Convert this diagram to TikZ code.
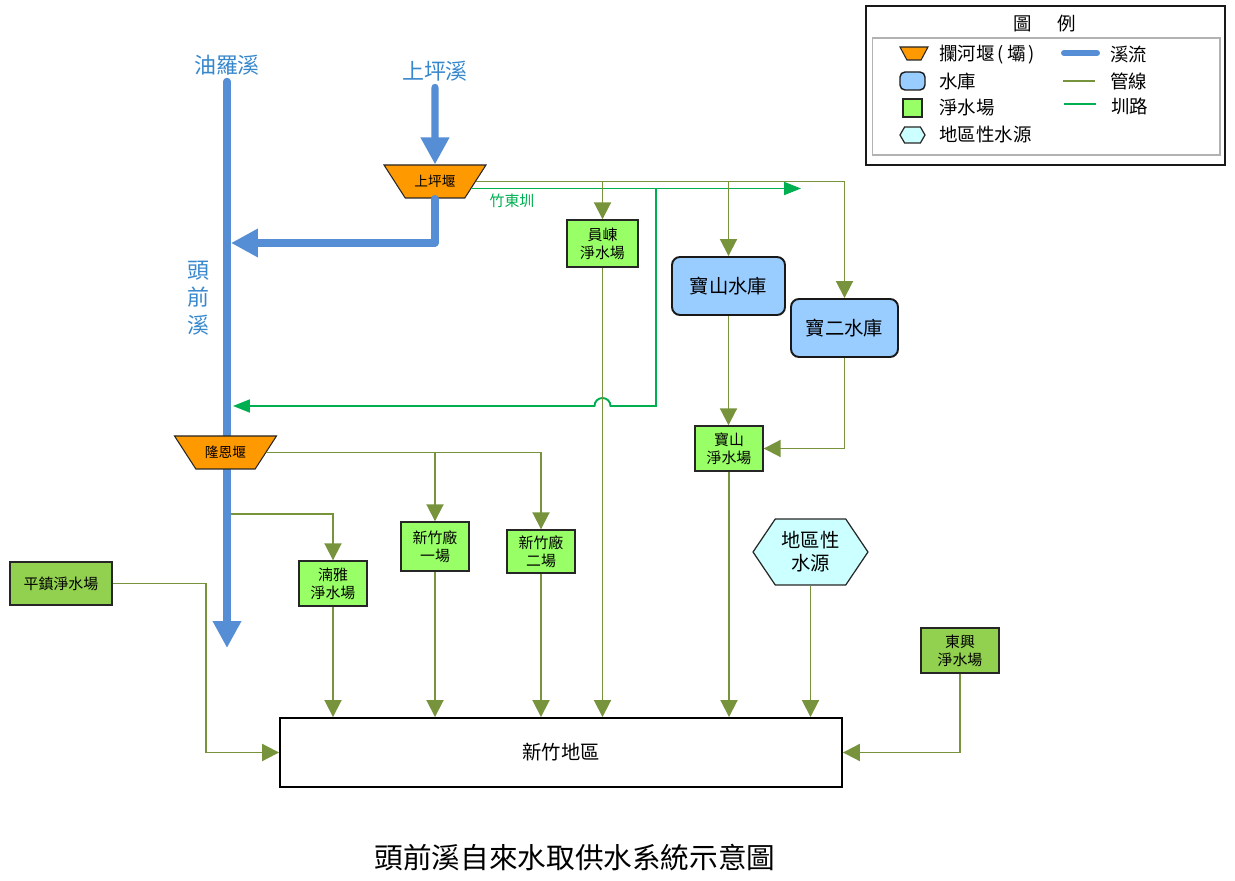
\documentclass[tikz,border=0pt]{standalone}
\usepackage{fontspec}
\setmainfont{Noto Sans CJK TC}
\usepackage{xcolor}
\usetikzlibrary{shapes, shapes.geometric, shapes.symbols, arrows.meta, positioning, calc}
\definecolor{riverblue}{RGB}{85, 142, 213}
\definecolor{labelblue}{RGB}{55, 135, 205}
\definecolor{weirorange}{RGB}{255, 153, 0}
\definecolor{resblue}{RGB}{153, 204, 255}
\definecolor{plantgreen}{RGB}{153, 255, 102}
\definecolor{plantdark}{RGB}{146, 208, 80}
\definecolor{localcyan}{RGB}{204, 255, 255}
\definecolor{pipeolive}{RGB}{119, 147, 60}
\definecolor{canalgreen}{RGB}{0, 176, 80}

\begin{document}
\begin{tikzpicture}[
        x=0.02cm, y=-0.02cm,
        font=\fontsize{11}{13}\selectfont,
        river/.style={
            line width=4pt,
            draw=riverblue,
            line cap=round,
            line join=round,
            -{Triangle[length=0.54cm, width=0.54cm]}
        },
        pipe/.style={
            line width=1.1pt,
            draw=pipeolive,
            -{Triangle[length=0.34cm, width=0.34cm]}
        },
        canal/.style={
            line width=1.1pt,
            draw=canalgreen,
            -{Triangle[length=0.34cm, width=0.26cm]}
        },
        weir/.style={
            trapezium,
            trapezium angle=56,
            trapezium stretches body,
            shape border rotate=180,
            minimum width=2.04cm,
            minimum height=0.66cm,
            inner xsep=0pt,
            inner ysep=0.19cm,
            fill=weirorange,
            draw=black!85,
            line width=0.6pt,
            font=\fontsize{7.8}{9}\selectfont
        },
        plant/.style={
            rectangle,
            fill=plantgreen,
            draw=black!85,
            line width=0.8pt,
            align=center,
            inner sep=0pt,
            minimum width=1.36cm,
            minimum height=0.9cm,
            font=\fontsize{8.5}{10.2}\selectfont
        },
        oldplant/.style={
            plant,
            fill=plantdark,
            line width=1.1pt
        },
        reservoir/.style={
            rectangle,
            rounded corners=0.16cm,
            fill=resblue,
            draw=black!90,
            line width=1.1pt,
            minimum height=1.16cm
        },
        localsrc/.style={
            signal,
            signal to=west and east,
            signal pointer angle=112,
            fill=localcyan,
            draw=black!85,
            line width=0.7pt,
            inner sep=0pt,
            align=center,
            minimum width=2.3cm,
            minimum height=1.32cm
        },
        region/.style={
            rectangle,
            draw=black,
            line width=1.1pt,
            minimum width=11.24cm,
            minimum height=1.38cm
        },
        rivername/.style={
            text=labelblue,
            font=\fontsize{12.5}{15.6}\selectfont,
            align=center
        },
        legendtext/.style={
            anchor=west,
            inner sep=0pt,
            font=\fontsize{10.5}{12}\selectfont
        }
    ]
        \useasboundingbox (0,0) rectangle (1235,881);

        % streams
        \node[rivername] (youluo) at (227,65) {油羅溪};
        \node[rivername] (shangping) at (435,71) {上坪溪};
        \node[rivername] (touqian) at (198,298) {頭\\前\\溪};
        \coordinate (riverend) at (227,648);
        \draw[river] (youluo.south) -- (riverend);

        % weirs
        \node[weir] (spw) at (435,181.5) {上坪堰};
        \node[weir] (lungen) at (225.5,452.5) {隆恩堰};
        \coordinate (join1) at (231,243);
        \draw[river] (shangping.south) -- (spw.north);
        \draw[river] (spw.south) |- (join1);

        % plants and reservoirs
        \node[plant, minimum width=1.42cm, minimum height=0.94cm] (yuandong) at (602.5,243.5) {員崠\\淨水場};
        \node[reservoir, minimum width=2.26cm] (baoshanres) at (728.5,286) {寶山水庫};
        \node[reservoir, minimum width=2.14cm] (baoer) at (844.5,328) {寶二水庫};
        \node[plant] (baoshanplant) at (729,448.5) {寶山\\淨水場};
        \node[plant] (nanya) at (333,583.5) {湳雅\\淨水場};
        \node[plant, minimum height=0.98cm] (hc1) at (435,546.5) {新竹廠\\一場};
        \node[plant, minimum height=0.86cm] (hc2) at (541,551.5) {新竹廠\\二場};
        \node[oldplant, minimum width=2.04cm, minimum height=0.86cm] (pingzhen) at (61,583.5) {平鎮淨水場};
        \node[oldplant, minimum width=1.56cm] (dongxing) at (960,650.5) {東興\\淨水場};
        \node[localsrc] (localwater) at (810.5,552) {地區性\\水源};
        \node[region] (hsinchu) at (561,752.5) {新竹地區};

        % canal
        \coordinate (canalstart) at (472,188.5);
        \coordinate (canalend) at (801,188.5);
        \coordinate (canalsplit) at (656,188.5);
        \coordinate (canalback) at (233,406);
        \draw[canal] (canalstart) -- (canalend);
        \draw[canal] (canalsplit) -- (canalsplit |- canalback)
            -- ($(yuandong.south |- canalback)+(8,0)$)
            arc[start angle=0, end angle=180, radius=0.16cm] -- (canalback);
        \node[text=canalgreen, font=\fontsize{8.5}{10}\selectfont] (zhudong) at (512,201) {竹東圳};

        % pipes
        \draw[pipe] (spw.east) -| (baoer.north);
        \draw[pipe] (yuandong.north |- spw.east) -- (yuandong.north);
        \draw[pipe] (baoshanres.north |- spw.east) -- (baoshanres.north);
        \draw[pipe] (baoshanres.south) -- (baoshanres.south |- baoshanplant.north);
        \draw[pipe] (baoer.south) |- (baoshanplant.east);
        \draw[pipe] (lungen.east) -| (hc2.north);
        \draw[pipe] (hc1.north |- lungen.east) -- (hc1.north);
        \coordinate (nanyatap) at (231,514);
        \draw[pipe] (nanyatap) -| (nanya.north);

        \draw[pipe] (nanya.south) -- (nanya.south |- hsinchu.north);
        \draw[pipe] (hc1.south) -- (hc1.south |- hsinchu.north);
        \draw[pipe] (hc2.south) -- (hc2.south |- hsinchu.north);
        \draw[pipe] (yuandong.south) -- (yuandong.south |- hsinchu.north);
        \draw[pipe] (baoshanplant.south) -- (baoshanplant.south |- hsinchu.north);
        \draw[pipe] (localwater.south) -- (localwater.south |- hsinchu.north);
        \draw[pipe] (pingzhen.east) -- ++(93,0) |- (hsinchu.west);
        \draw[pipe] (dongxing.south) |- (hsinchu.east);

        % legend
        \node[draw=black!90, line width=0.8pt, minimum width=7.18cm, minimum height=3.18cm] (legendbox) at (1045.5,85.5) {};
        \node[draw=gray!60, line width=0.6pt, minimum width=6.96cm, minimum height=2.34cm] (legendinner) at (1046,96.5) {};
        \node[font=\fontsize{10.5}{12}\selectfont] (legendtitle) at (1045,24) {圖\hspace{1.4em}例};
        \node[weir, trapezium angle=62, minimum width=0.56cm, minimum height=0.26cm, inner ysep=0.13cm] (keyweir) at (914,53.5) {};
        \node[reservoir, rounded corners=0.1cm, minimum width=0.5cm, minimum height=0.36cm, line width=0.8pt] (keyres) at (912.5,81) {};
        \node[plant, minimum width=0.38cm, minimum height=0.36cm] (keyplant) at (912.5,108) {};
        \node[localsrc, signal pointer angle=120, minimum width=0.5cm, minimum height=0.32cm] (keylocal) at (912.5,135) {};
        \node[legendtext] (keyweirtext) at (939,55) {攔河堰\,(\,壩\,)};
        \node[legendtext] (keyrestext) at (939,81) {水庫};
        \node[legendtext] (keyplanttext) at (939,108) {淨水場};
        \node[legendtext] (keylocaltext) at (939,135) {地區性水源};
        \node[legendtext] (keyrivertext) at (1110,55) {溪流};
        \node[legendtext] (keypipetext) at (1110,81) {管線};
        \node[legendtext] (keycanaltext) at (1111,106) {圳路};
        \draw[line width=3.4pt, draw=riverblue, line cap=round] (1064,53) -- (1097,53);
        \draw[line width=1.1pt, draw=pipeolive] (1063,81) -- (1095,81);
        \draw[line width=1.1pt, draw=canalgreen] (1064,104) -- (1096,104);

        % title
        \node[font=\fontsize{16.3}{19}\selectfont] (title) at (575,858) {頭前溪自來水取供水系統示意圖};
    \end{tikzpicture}
\end{document}
